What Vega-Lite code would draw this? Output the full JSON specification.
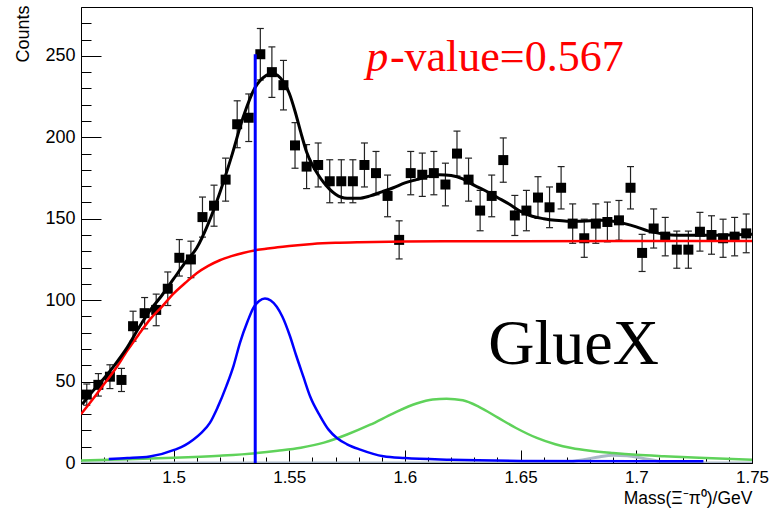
{
  "$schema": "https://vega.github.io/schema/vega-lite/v6.json",
  "width": 671,
  "height": 456,
  "autosize": {"type": "none"},
  "padding": {"left": 81, "top": 7, "right": 21, "bottom": 45},
  "background": "white",
  "config": {
    "view": {"stroke": "black", "strokeWidth": 1},
    "font": "Liberation Sans",
    "axis": {"grid": false, "labelOverlap": false, "domainColor": "black", "tickColor": "black", "labelColor": "black", "titleColor": "black", "labelFont": "Liberation Sans", "titleFont": "Liberation Sans", "titleFontWeight": "normal"}
  },
  "datasets": {
    "pts": [
      {"m":1.4625,"n":42,"lo":35.5,"hi":48.5},{"m":1.4675,"n":48,"lo":41.1,"hi":54.9},{"m":1.4725,"n":53,"lo":45.7,"hi":60.3},{"m":1.4775,"n":51,"lo":43.9,"hi":58.1},
      {"m":1.4825,"n":84,"lo":74.8,"hi":93.2},{"m":1.4875,"n":92,"lo":82.4,"hi":101.6},{"m":1.4925,"n":94,"lo":84.3,"hi":103.7},{"m":1.4975,"n":107,"lo":96.7,"hi":117.3},
      {"m":1.5025,"n":126,"lo":114.8,"hi":137.2},{"m":1.5075,"n":125,"lo":113.8,"hi":136.2},{"m":1.5125,"n":151,"lo":138.7,"hi":163.3},{"m":1.5175,"n":158,"lo":145.4,"hi":170.6},
      {"m":1.5225,"n":174,"lo":160.8,"hi":187.2},{"m":1.5275,"n":208,"lo":193.6,"hi":222.4},{"m":1.5325,"n":212,"lo":197.4,"hi":226.6},{"m":1.5375,"n":251,"lo":235.2,"hi":266.8},
      {"m":1.5425,"n":240,"lo":224.5,"hi":255.5},{"m":1.5475,"n":232,"lo":216.8,"hi":247.2},{"m":1.5525,"n":195,"lo":181,"hi":209},{"m":1.5575,"n":182,"lo":168.5,"hi":195.5},
      {"m":1.5625,"n":183,"lo":169.5,"hi":196.5},{"m":1.5675,"n":173,"lo":159.8,"hi":186.2},{"m":1.5725,"n":173,"lo":159.8,"hi":186.2},{"m":1.5775,"n":173,"lo":159.8,"hi":186.2},
      {"m":1.5825,"n":183,"lo":169.5,"hi":196.5},{"m":1.5875,"n":178,"lo":164.7,"hi":191.3},{"m":1.5925,"n":164,"lo":151.2,"hi":176.8},{"m":1.5975,"n":137,"lo":125.3,"hi":148.7},
      {"m":1.6025,"n":178,"lo":164.7,"hi":191.3},{"m":1.6075,"n":177,"lo":163.7,"hi":190.3},{"m":1.6125,"n":178,"lo":164.7,"hi":191.3},{"m":1.6175,"n":171,"lo":157.9,"hi":184.1},
      {"m":1.6225,"n":190,"lo":176.2,"hi":203.8},{"m":1.6275,"n":174,"lo":160.8,"hi":187.2},{"m":1.6325,"n":155,"lo":142.6,"hi":167.4},{"m":1.6375,"n":164,"lo":151.2,"hi":176.8},
      {"m":1.6425,"n":186,"lo":172.4,"hi":199.6},{"m":1.6475,"n":152,"lo":139.7,"hi":164.3},{"m":1.6525,"n":155,"lo":142.6,"hi":167.4},{"m":1.6575,"n":163,"lo":150.2,"hi":175.8},
      {"m":1.6625,"n":157,"lo":144.5,"hi":169.5},{"m":1.6675,"n":169,"lo":156,"hi":182},{"m":1.6725,"n":147,"lo":134.9,"hi":159.1},{"m":1.6775,"n":138,"lo":126.3,"hi":149.7},
      {"m":1.6825,"n":147,"lo":134.9,"hi":159.1},{"m":1.6875,"n":148,"lo":135.8,"hi":160.2},{"m":1.6925,"n":149,"lo":136.8,"hi":161.2},{"m":1.6975,"n":169,"lo":156,"hi":182},
      {"m":1.7025,"n":129,"lo":117.6,"hi":140.4},{"m":1.7075,"n":144,"lo":132,"hi":156},{"m":1.7125,"n":139,"lo":127.2,"hi":150.8},{"m":1.7175,"n":131,"lo":119.6,"hi":142.4},
      {"m":1.7225,"n":131,"lo":119.6,"hi":142.4},{"m":1.7275,"n":142,"lo":130.1,"hi":153.9},{"m":1.7325,"n":140,"lo":128.2,"hi":151.8},{"m":1.7375,"n":138,"lo":126.3,"hi":149.7},
      {"m":1.7425,"n":139,"lo":127.2,"hi":150.8},{"m":1.7475,"n":141,"lo":129.1,"hi":152.9}
    ],
    "fit": [
      {"m":1.4605,"v":36},{"m":1.465,"v":44},{"m":1.47,"v":52},{"m":1.475,"v":61},{"m":1.48,"v":71},{"m":1.485,"v":83},
      {"m":1.49,"v":94},{"m":1.495,"v":103},{"m":1.5,"v":113},{"m":1.505,"v":123},{"m":1.51,"v":132},{"m":1.515,"v":147},
      {"m":1.52,"v":166},{"m":1.525,"v":188},{"m":1.53,"v":212},{"m":1.535,"v":230},{"m":1.54,"v":238},{"m":1.5425,"v":239.5},
      {"m":1.545,"v":238},{"m":1.5475,"v":234},{"m":1.55,"v":227},{"m":1.5525,"v":216},{"m":1.555,"v":203},{"m":1.5575,"v":191},
      {"m":1.56,"v":183},{"m":1.5625,"v":177},{"m":1.565,"v":172},{"m":1.5675,"v":168},{"m":1.57,"v":165},{"m":1.575,"v":162.5},
      {"m":1.58,"v":162.5},{"m":1.585,"v":164},{"m":1.59,"v":166.5},{"m":1.595,"v":169},{"m":1.6,"v":172},{"m":1.605,"v":174},
      {"m":1.61,"v":176},{"m":1.615,"v":177},{"m":1.62,"v":176.5},{"m":1.625,"v":174.5},{"m":1.63,"v":170.5},{"m":1.635,"v":167},
      {"m":1.64,"v":163},{"m":1.645,"v":159},{"m":1.65,"v":154.5},{"m":1.655,"v":151.5},{"m":1.66,"v":150},{"m":1.665,"v":149},
      {"m":1.67,"v":148.5},{"m":1.675,"v":148.5},{"m":1.68,"v":148.8},{"m":1.685,"v":149},{"m":1.69,"v":148.5},{"m":1.695,"v":147},
      {"m":1.7,"v":145},{"m":1.705,"v":142.5},{"m":1.71,"v":141},{"m":1.715,"v":140},{"m":1.72,"v":139.8},{"m":1.73,"v":139.8},
      {"m":1.74,"v":140},{"m":1.75,"v":140.5}
    ],
    "bkg": [
      {"m":1.46,"v":30},{"m":1.465,"v":39},{"m":1.47,"v":48.5},{"m":1.475,"v":58},{"m":1.48,"v":69},{"m":1.485,"v":79},
      {"m":1.49,"v":88.5},{"m":1.495,"v":96},{"m":1.5,"v":104},{"m":1.505,"v":110.5},{"m":1.51,"v":116.5},{"m":1.515,"v":121},
      {"m":1.52,"v":124.5},{"m":1.525,"v":127},{"m":1.53,"v":129},{"m":1.535,"v":130.5},{"m":1.54,"v":131.5},{"m":1.545,"v":132.5},
      {"m":1.55,"v":133.3},{"m":1.56,"v":134.5},{"m":1.57,"v":135.2},{"m":1.58,"v":135.6},{"m":1.6,"v":136},{"m":1.65,"v":136.2},
      {"m":1.75,"v":136.3}
    ],
    "sig1": [
      {"m":1.472,"v":2.5},{"m":1.48,"v":3},{"m":1.4897,"v":4},{"m":1.5006,"v":8.2},{"m":1.505,"v":11},{"m":1.5085,"v":14.3},
      {"m":1.512,"v":18.5},{"m":1.5157,"v":24.6},{"m":1.519,"v":34},{"m":1.5229,"v":47.5},{"m":1.526,"v":60},{"m":1.5287,"v":73.8},
      {"m":1.532,"v":87},{"m":1.5345,"v":95.3},{"m":1.537,"v":99.5},{"m":1.5395,"v":101},{"m":1.542,"v":99.8},{"m":1.5446,"v":96},
      {"m":1.547,"v":90},{"m":1.5503,"v":78},{"m":1.553,"v":66},{"m":1.5561,"v":53},{"m":1.559,"v":41},{"m":1.5634,"v":28.7},
      {"m":1.567,"v":20.5},{"m":1.5706,"v":15.4},{"m":1.575,"v":11.5},{"m":1.5807,"v":8.2},{"m":1.5907,"v":4.1},{"m":1.6,"v":3},
      {"m":1.62,"v":2},{"m":1.65,"v":1.3},{"m":1.7,"v":1},{"m":1.729,"v":1}
    ],
    "sig2": [
      {"m":1.46,"v":1.6},{"m":1.48,"v":2.3},{"m":1.5,"v":3.2},{"m":1.52,"v":4.5},{"m":1.536,"v":6.1},{"m":1.545,"v":7.5},
      {"m":1.555,"v":9.4},{"m":1.565,"v":12.5},{"m":1.575,"v":17.5},{"m":1.585,"v":23.5},{"m":1.595,"v":30.5},{"m":1.605,"v":36.5},
      {"m":1.612,"v":39},{"m":1.618,"v":39.5},{"m":1.625,"v":38.5},{"m":1.632,"v":34.5},
      {"m":1.64,"v":28},{"m":1.648,"v":21.5},{"m":1.657,"v":15.4},{"m":1.665,"v":11.5},{"m":1.672,"v":9.2},{"m":1.68,"v":7.5},
      {"m":1.69,"v":6.1},{"m":1.7,"v":5},{"m":1.712,"v":4.1},{"m":1.73,"v":3},{"m":1.75,"v":2}
    ],
    "sig3": [
      {"m":1.46,"v":0},{"m":1.666,"v":0},{"m":1.675,"v":1.5},{"m":1.683,"v":3.5},{"m":1.69,"v":4.8},{"m":1.696,"v":4.5},
      {"m":1.703,"v":2.8},{"m":1.71,"v":1},{"m":1.716,"v":0},{"m":1.75,"v":0}
    ],
    "vline": [{"m":1.5353,"lo":0,"hi":251}],
    "pv1": [{"m":1.5928,"v":241,"t":"p"}],
    "pv2": [{"m":1.5935,"v":241,"t":"-value=0.567"}],
    "glue": [{"m":1.636,"v":60.5,"t":"GlueX"}]
  },
  "layer": [
    {
      "data": {"name": "pts"},
      "mark": {"type": "rule", "color": "#222222", "strokeWidth": 1.2},
      "encoding": {
        "x": {
          "field": "m", "type": "quantitative", "title": "Mass(Ξ⁻π⁰)/GeV",
          "scale": {"domain": [1.46, 1.75], "nice": false, "zero": false},
          "axis": {
            "values": [1.47,1.48,1.49,1.5,1.51,1.52,1.53,1.54,1.55,1.56,1.57,1.58,1.59,1.6,1.61,1.62,1.63,1.64,1.65,1.66,1.67,1.68,1.69,1.7,1.71,1.72,1.73,1.74,1.75],
            "tickCount": 200,
            "format": ".2~f",
            "labelExpr": "abs(datum.value*20 - round(datum.value*20)) < 0.001 ? datum.label : ''",
            "tickSize": {"condition": {"test": "abs(datum.value*20 - round(datum.value*20)) < 0.001", "value": -13}, "value": -6},
            "labelPadding": 19,
            "labelFontSize": 17,
            "labelFlush": false,
            "labelOverlap": false,
            "titleFontSize": 17.5,
            "titleAnchor": "end",
            "titleAlign": "right",
            "titleX": 671,
            "titleY": 40,
            "titleBaseline": "alphabetic"
          }
        },
        "y": {
          "field": "lo", "type": "quantitative", "title": "Counts",
          "scale": {"domain": [0, 280], "nice": false, "zero": true},
          "axis": {
            "values": [0,10,20,30,40,50,60,70,80,90,100,110,120,130,140,150,160,170,180,190,200,210,220,230,240,250,260,270],
            "tickCount": 200,
            "labelExpr": "datum.value % 50 === 0 ? datum.label : ''",
            "tickSize": {"condition": {"test": "datum.value % 50 === 0", "value": -20}, "value": -10},
            "labelPadding": 26,
            "labelFontSize": 18,
            "labelFlush": false,
            "labelOverlap": false,
            "titleFontSize": 18,
            "titleAngle": -90,
            "titleAlign": "right",
            "titleBaseline": "alphabetic",
            "titleX": -53,
            "titleY": -2
          }
        },
        "y2": {"field": "hi"}
      }
    },
    {
      "data": {"name": "pts"},
      "mark": {"type": "tick", "orient": "horizontal", "size": 7, "thickness": 1.2, "color": "#222222", "opacity": 1},
      "encoding": {
        "x": {"field": "m", "type": "quantitative", "title": "Mass(Ξ⁻π⁰)/GeV"},
        "y": {"field": "lo", "type": "quantitative", "title": "Counts"}
      }
    },
    {
      "data": {"name": "pts"},
      "mark": {"type": "tick", "orient": "horizontal", "size": 7, "thickness": 1.2, "color": "#222222", "opacity": 1},
      "encoding": {
        "x": {"field": "m", "type": "quantitative", "title": "Mass(Ξ⁻π⁰)/GeV"},
        "y": {"field": "hi", "type": "quantitative", "title": "Counts"}
      }
    },
    {
      "data": {"name": "pts"},
      "mark": {"type": "point", "shape": "square", "filled": true, "size": 100, "color": "black", "opacity": 1},
      "encoding": {
        "x": {"field": "m", "type": "quantitative", "title": "Mass(Ξ⁻π⁰)/GeV"},
        "y": {"field": "n", "type": "quantitative", "title": "Counts"}
      }
    },
    {
      "data": {"name": "sig3"},
      "mark": {"type": "line", "color": "#aab8c8", "strokeWidth": 3, "clip": true, "interpolate": "monotone"},
      "encoding": {"x": {"field": "m", "type": "quantitative", "title": "Mass(Ξ⁻π⁰)/GeV"}, "y": {"field": "v", "type": "quantitative", "title": "Counts"}}
    },
    {
      "data": {"name": "sig2"},
      "mark": {"type": "line", "color": "#5fd25a", "strokeWidth": 2.5, "clip": true, "interpolate": "monotone"},
      "encoding": {"x": {"field": "m", "type": "quantitative", "title": "Mass(Ξ⁻π⁰)/GeV"}, "y": {"field": "v", "type": "quantitative", "title": "Counts"}}
    },
    {
      "data": {"name": "sig1"},
      "mark": {"type": "line", "color": "#0000ff", "strokeWidth": 2.5, "clip": true, "interpolate": "monotone"},
      "encoding": {"x": {"field": "m", "type": "quantitative", "title": "Mass(Ξ⁻π⁰)/GeV"}, "y": {"field": "v", "type": "quantitative", "title": "Counts"}}
    },
    {
      "data": {"name": "bkg"},
      "mark": {"type": "line", "color": "#ff0000", "strokeWidth": 2.5, "clip": true, "interpolate": "monotone"},
      "encoding": {"x": {"field": "m", "type": "quantitative", "title": "Mass(Ξ⁻π⁰)/GeV"}, "y": {"field": "v", "type": "quantitative", "title": "Counts"}}
    },
    {
      "data": {"name": "fit"},
      "mark": {"type": "line", "color": "black", "strokeWidth": 3, "clip": true, "interpolate": "monotone"},
      "encoding": {"x": {"field": "m", "type": "quantitative", "title": "Mass(Ξ⁻π⁰)/GeV"}, "y": {"field": "v", "type": "quantitative", "title": "Counts"}}
    },
    {
      "data": {"name": "vline"},
      "mark": {"type": "rule", "color": "#0000ff", "strokeWidth": 3},
      "encoding": {"x": {"field": "m", "type": "quantitative", "title": "Mass(Ξ⁻π⁰)/GeV"}, "y": {"field": "lo", "type": "quantitative", "title": "Counts"}, "y2": {"field": "hi"}}
    },
    {
      "data": {"name": "pv1"},
      "mark": {"type": "text", "font": "Liberation Serif", "fontStyle": "italic", "fontSize": 44, "color": "#ff0000", "align": "right", "baseline": "alphabetic"},
      "encoding": {"x": {"field": "m", "type": "quantitative", "title": "Mass(Ξ⁻π⁰)/GeV"}, "y": {"field": "v", "type": "quantitative", "title": "Counts"}, "text": {"field": "t"}}
    },
    {
      "data": {"name": "pv2"},
      "mark": {"type": "text", "font": "Liberation Serif", "fontSize": 44, "color": "#ff0000", "align": "left", "baseline": "alphabetic"},
      "encoding": {"x": {"field": "m", "type": "quantitative", "title": "Mass(Ξ⁻π⁰)/GeV"}, "y": {"field": "v", "type": "quantitative", "title": "Counts"}, "text": {"field": "t"}}
    },
    {
      "data": {"name": "glue"},
      "mark": {"type": "text", "font": "Liberation Serif", "fontSize": 64, "color": "black", "align": "left", "baseline": "alphabetic"},
      "encoding": {"x": {"field": "m", "type": "quantitative", "title": "Mass(Ξ⁻π⁰)/GeV"}, "y": {"field": "v", "type": "quantitative", "title": "Counts"}, "text": {"field": "t"}}
    }
  ]
}
